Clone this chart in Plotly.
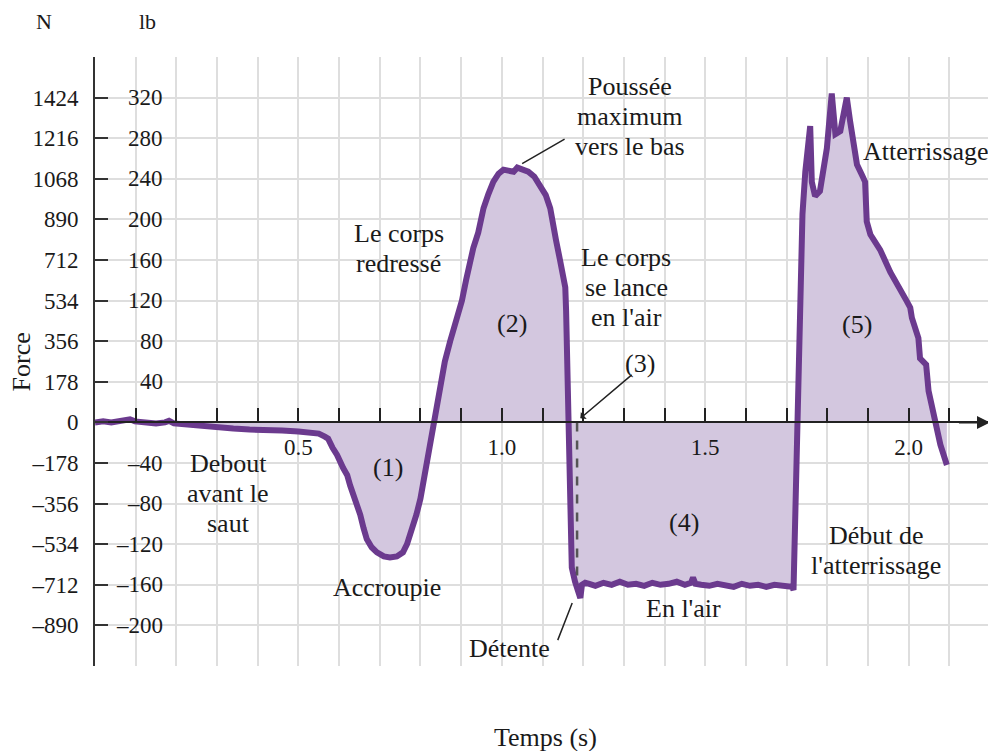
import plotly.graph_objects as go

# ---------------- data (time in s, force in lb) ----------------
time_s = [
    0.000, 0.020, 0.040, 0.060, 0.075, 0.086, 0.098, 0.120, 0.150, 0.172, 0.182, 0.194,
    0.220, 0.260, 0.300, 0.340, 0.380, 0.420, 0.460, 0.500, 0.530, 0.550, 0.565, 0.573,
    0.584, 0.595, 0.610, 0.620, 0.627, 0.640, 0.652, 0.660, 0.668, 0.680, 0.693, 0.710,
    0.725, 0.742, 0.757, 0.767, 0.775, 0.783, 0.790, 0.800, 0.807, 0.813, 0.819, 0.825,
    0.831, 0.838, 0.848, 0.860, 0.873, 0.888, 0.902, 0.912, 0.922, 0.930, 0.942, 0.955,
    0.967, 0.979, 0.992, 1.004, 1.016, 1.029, 1.038, 1.045, 1.055, 1.065, 1.080, 1.094,
    1.108, 1.119, 1.124, 1.133, 1.143, 1.150, 1.156, 1.158, 1.160, 1.162, 1.163, 1.165,
    1.168, 1.172, 1.180, 1.188, 1.193, 1.197, 1.205, 1.215, 1.230, 1.250, 1.270, 1.290,
    1.310, 1.330, 1.350, 1.370, 1.390, 1.410, 1.430, 1.450, 1.465, 1.470, 1.476, 1.490,
    1.510, 1.530, 1.550, 1.570, 1.590, 1.610, 1.630, 1.650, 1.670, 1.690, 1.705, 1.713,
    1.717, 1.720, 1.723, 1.726, 1.732, 1.737, 1.739, 1.746, 1.758, 1.762, 1.770, 1.782,
    1.799, 1.811, 1.820, 1.832, 1.848, 1.856, 1.873, 1.885, 1.893, 1.897, 1.906, 1.930,
    1.955, 1.996, 2.004, 2.008, 2.024, 2.028, 2.043, 2.049, 2.061, 2.069, 2.078, 2.094,
]
force_lb = [
    0, 1, 0, 1, 2, 3, 1, 0, -1, 0, 1.5, -1,
    -2, -4, -5, -6, -7, -7, -8, -9, -10, -11, -14, -16,
    -25, -32, -45, -52, -62, -76, -91, -104, -115, -123, -128, -132,
    -133, -132, -128, -120, -111, -101, -91, -75, -59, -43, -26, -14,
    -2, 15, 41, 60, 80, 100, 120, 140, 160, 172, 187, 211,
    225, 237, 245, 249, 248, 247, 251, 250, 249, 247, 242, 234,
    224, 211, 198, 180, 160, 146, 133, 110, 80, 50, 34, 0,
    -60, -143, -157, -165, -173, -160, -158, -159, -161, -158, -160, -157,
    -160, -159, -161, -158, -160, -159, -157, -160, -158, -153, -159, -160,
    -161, -159, -160, -162, -159, -161, -160, -162, -160, -161, -163, -162,
    -165, -120, -40, 0, 100, 150, 205, 247, 292, 237, 223, 228,
    270, 324, 284, 287, 320, 297, 254, 244, 237, 198, 185, 170,
    148, 119, 113, 103, 83, 63, 57, 31, 11, -2, -22, -42,
]

# dashed takeoff marker (3)
takeoff_t = [1.185, 1.185]
takeoff_f = [0, -160]

# axis ticks
x_tickvals = [0.5, 1.0, 1.5, 2.0]
x_ticktext = ["0.5", "1.0", "1.5", "2.0"]
y_tickvals = [-240, -200, -160, -120, -80, -40, 0, 40, 80, 120, 160, 200, 240, 280, 320, 360]
newton_text = ["", "–890", "–712", "–534", "–356", "–178", "0", "178", "356", "534",
               "712", "890", "1068", "1216", "1424", ""]
lb_vals = [-200, -160, -120, -80, -40, 40, 80, 120, 160, 200, 240, 280, 320]
lb_text = ["–200", "–160", "–120", "–80", "–40", "40", "80", "120", "160", "200", "240", "280", "320"]

# phase labels: (lines, t, centre force)
labels = [
    (["Debout", "avant le", "saut"], 0.327, -70),
    (["(1)"], 0.720, -44),
    (["Accroupie"], 0.718, -163),
    (["Le corps", "redressé"], 0.747, 171),
    (["(2)"], 1.025, 97),
    (["Poussée", "maximum", "vers le bas"], 1.315, 301),
    (["Le corps", "se lance", "en l'air"], 1.306, 133),
    (["(3)"], 1.340, 58),
    (["(4)"], 1.448, -99),
    (["Détente"], 1.020, -223),
    (["En l'air"], 1.446, -183),
    (["Début de", "l'atterrissage"], 1.920, -126),
    (["(5)"], 1.874, 96),
    (["Atterrissage"], 2.043, 267),
]
LINE_STEP = 29.5  # lb between text lines

FONT = "Liberation Serif, Times New Roman, DejaVu Serif, serif"
LINE = "#6b3a8e"
FILL = "#d3c7df"
GRID = "#dedede"
AX = "#222222"
TXT = "#1a1a1a"

fig = go.Figure()
fig.add_trace(go.Scatter(
    x=time_s, y=force_lb, mode="lines", fill="tozeroy", fillcolor=FILL,
    line=dict(color=LINE, width=6), hoverinfo="skip", showlegend=False,
))
fig.add_trace(go.Scatter(
    x=takeoff_t, y=takeoff_f, mode="lines",
    line=dict(color="#555555", width=2.5, dash="dash"), showlegend=False, hoverinfo="skip",
))

annotations = []
for lines, t, fc in labels:
    n = len(lines)
    for i, txt in enumerate(lines):
        yy = fc + (n - 1) / 2 * LINE_STEP - i * LINE_STEP
        annotations.append(dict(x=t, y=yy, xref="x", yref="y", text=txt, showarrow=False,
                                xanchor="center", yanchor="middle",
                                font=dict(family=FONT, size=26, color=TXT)))
for v, txt in zip(lb_vals, lb_text):
    annotations.append(dict(x=0.172, y=v, xref="x", yref="y", text=txt, showarrow=False,
                            xanchor="right", yanchor="middle",
                            font=dict(family=FONT, size=23, color=TXT)))

# leader lines
annotations += [
    dict(x=1.050, y=255, ax=1.158, ay=280, xref="x", yref="y", axref="x", ayref="y",
         text="", showarrow=True, arrowhead=0, arrowwidth=1.5, arrowcolor=AX),
    dict(x=1.193, y=4, ax=1.323, ay=48, xref="x", yref="y", axref="x", ayref="y",
         text="", showarrow=True, arrowhead=1, arrowsize=1, arrowwidth=1.5, arrowcolor=AX),
    dict(x=1.173, y=-178, ax=1.136, ay=-216, xref="x", yref="y", axref="x", ayref="y",
         text="", showarrow=True, arrowhead=0, arrowwidth=1.5, arrowcolor=AX),
    # x-axis arrow
    dict(x=2.2, y=0, ax=2.12, ay=0, xref="x", yref="y", axref="x", ayref="y",
         text="", showarrow=True, arrowhead=2, arrowsize=1.3, arrowwidth=2, arrowcolor=AX),
    # unit headers and titles
    dict(x=-0.057, y=1.0575, xref="paper", yref="paper", text="N", showarrow=False,
         xanchor="center", yanchor="middle", font=dict(family=FONT, size=22, color=TXT)),
    dict(x=0.130, y=1.0575, xref="x", yref="paper", text="lb", showarrow=False,
         xanchor="center", yanchor="middle", font=dict(family=FONT, size=22, color=TXT)),
    dict(x=-0.0816, y=60, xref="paper", yref="y", text="Force", showarrow=False, textangle=-90,
         xanchor="center", yanchor="middle", font=dict(family=FONT, size=26, color=TXT)),
    dict(x=1.1065, y=-0.118, xref="x", yref="paper", text="Temps (s)", showarrow=False,
         xanchor="center", yanchor="middle", font=dict(family=FONT, size=26, color=TXT)),
]

fig.update_layout(
    width=988, height=743,
    margin=dict(l=87, r=6, t=49, b=85, autoexpand=False),
    paper_bgcolor="white", plot_bgcolor="white",
    font=dict(family=FONT, size=23, color=TXT),
    showlegend=False,
    annotations=annotations,
    xaxis=dict(
        range=[0, 2.2], anchor="free", position=0.4, automargin=False,
        showline=True, linecolor=AX, linewidth=2,
        ticks="inside", ticklen=13, tickwidth=1.5, tickcolor=AX,
        tickvals=x_tickvals, ticktext=x_ticktext, ticklabelstandoff=4,
        tickfont=dict(family=FONT, size=23, color=TXT),
        showgrid=True, gridcolor=GRID, gridwidth=1.5, zeroline=False,
        minor=dict(dtick=0.1, tick0=0, ticks="inside", ticklen=13, tickwidth=1.5,
                   tickcolor=AX, showgrid=True, gridcolor=GRID, gridwidth=1.5),
    ),
    yaxis=dict(
        range=[-240, 360], automargin=False,
        showline=True, linecolor="#333333", linewidth=2,
        ticks="inside", ticklen=13, tickwidth=2, tickcolor="#333333",
        tickvals=y_tickvals, ticktext=newton_text, ticklabelstandoff=10,
        tickfont=dict(family=FONT, size=23, color=TXT),
        showgrid=True, gridcolor=GRID, gridwidth=1.5, zeroline=False,
    ),
)

fig.write_html("out.html")
